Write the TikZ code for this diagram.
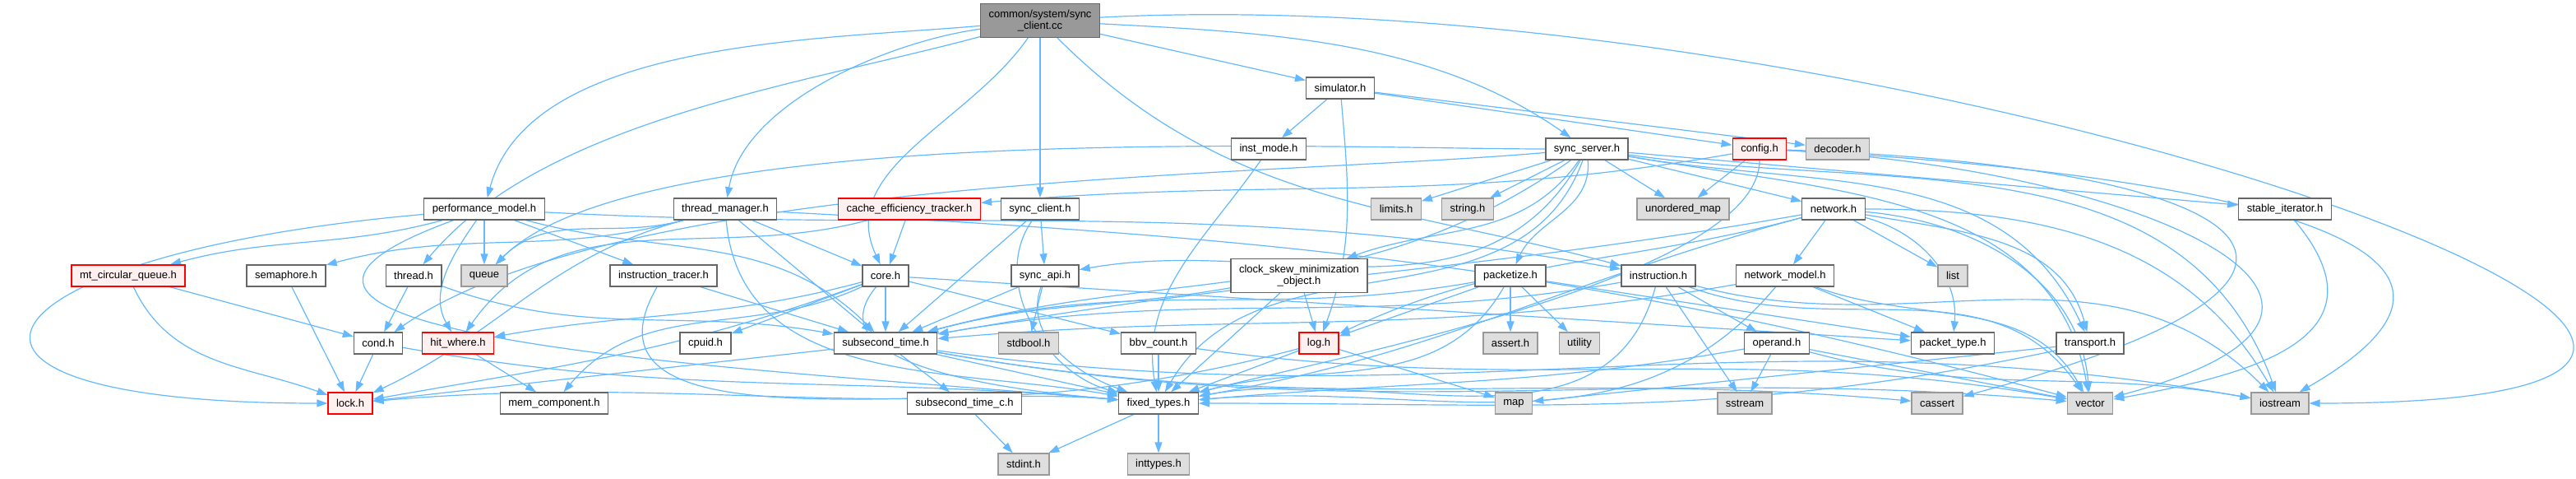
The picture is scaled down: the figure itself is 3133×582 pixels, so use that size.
\documentclass[tikz,border=0pt]{standalone}
\usepackage{fontspec}
\setmainfont{Liberation Sans}
\usetikzlibrary{arrows.meta,backgrounds}
\definecolor{edgeblue}{HTML}{63B8FF}
\definecolor{grey40}{HTML}{666666}
\definecolor{grey60}{HTML}{999999}
\definecolor{grey87}{HTML}{DEDEDE}
\definecolor{redfill}{HTML}{FFF0F0}
\begin{document}
\begin{tikzpicture}[x=0.5pt,y=0.5pt,
  hfile/.style={draw=grey40,fill=white,line width=0.65pt,minimum height=13pt,inner xsep=5pt,inner ysep=3.5pt,font=\fontsize{6.5}{7.25}\selectfont,align=center},
  sysfile/.style={hfile,draw=grey60,fill=grey87},
  cutfile/.style={hfile,draw=red,fill=redfill},
  srcfile/.style={hfile,fill=grey60},
  dep/.style={draw=edgeblue,line width=0.6pt,-{Triangle[length=6.5pt,width=4.5pt]}}]
  \useasboundingbox (0,0) rectangle (3133,-582);
  \node[srcfile] (root) at (1265,-25) {common/system/sync\\\_client.cc};
  \node[hfile] (sim) at (1630,-107) {simulator.h};
  \node[hfile] (instmode) at (1543,-181) {inst\_mode.h};
  \node[hfile] (sserver) at (1930,-181) {sync\_server.h};
  \node[cutfile] (config) at (2140,-181) {config.h};
  \node[sysfile] (decoder) at (2235,-181) {decoder.h};
  \node[hfile] (perf) at (589,-254) {performance\_model.h};
  \node[hfile] (tmgr) at (882,-254) {thread\_manager.h};
  \node[cutfile] (cet) at (1106,-254) {cache\_efficiency\_tracker.h};
  \node[hfile] (sclient) at (1265,-254) {sync\_client.h};
  \node[sysfile] (limits) at (1698,-254) {limits.h};
  \node[sysfile] (stringh) at (1785,-254) {string.h};
  \node[sysfile] (umap) at (2047,-254) {unordered\_map};
  \node[hfile] (net) at (2230,-254) {network.h};
  \node[hfile] (stable) at (2779,-254) {stable\_iterator.h};
  \node[cutfile] (mtcq) at (156,-335) {mt\_circular\_queue.h};
  \node[hfile] (sem) at (348,-335) {semaphore.h};
  \node[hfile] (thread) at (503,-335) {thread.h};
  \node[sysfile] (queue) at (589,-335) {queue};
  \node[hfile] (itracer) at (807,-335) {instruction\_tracer.h};
  \node[hfile] (core) at (1077,-335) {core.h};
  \node[hfile] (sapi) at (1271,-335) {sync\_api.h};
  \node[hfile] (clock) at (1580,-335) {clock\_skew\_minimization\\\_object.h};
  \node[hfile] (pktz) at (1837,-335) {packetize.h};
  \node[hfile] (instr) at (2017,-335) {instruction.h};
  \node[hfile] (netmodel) at (2171,-335) {network\_model.h};
  \node[sysfile] (list) at (2375,-335) {list};
  \node[hfile] (cond) at (460,-417) {cond.h};
  \node[cutfile] (hitw) at (557,-417) {hit\_where.h};
  \node[hfile] (cpuid) at (858,-417) {cpuid.h};
  \node[hfile] (subsec) at (1077,-417) {subsecond\_time.h};
  \node[sysfile] (stdbool) at (1251,-417) {stdbool.h};
  \node[hfile] (bbv) at (1409,-417) {bbv\_count.h};
  \node[cutfile] (log) at (1604,-417) {log.h};
  \node[sysfile] (asserth) at (1837,-417) {assert.h};
  \node[sysfile] (utility) at (1921,-417) {utility};
  \node[hfile] (operand) at (2161,-417) {operand.h};
  \node[hfile] (pkttype) at (2375,-417) {packet\_type.h};
  \node[hfile] (transport) at (2542,-417) {transport.h};
  \node[cutfile] (lock) at (426,-490) {lock.h};
  \node[hfile] (memc) at (674,-490) {mem\_component.h};
  \node[hfile] (subsecc) at (1173,-490) {subsecond\_time\_c.h};
  \node[hfile] (fixed) at (1409,-490) {fixed\_types.h};
  \node[sysfile] (map) at (1841,-490) {map};
  \node[sysfile] (sstream) at (2122,-490) {sstream};
  \node[sysfile] (cassert) at (2356,-490) {cassert};
  \node[sysfile] (vector) at (2542,-490) {vector};
  \node[sysfile] (iostream) at (2773,-490) {iostream};
  \node[sysfile] (stdint) at (1245,-564) {stdint.h};
  \node[sysfile] (inttypes) at (1409,-564) {inttypes.h};
  \begin{scope}[on background layer]
    \draw[dep] (root) to[out=185,in=75,looseness=0.8] (perf);
    \draw[dep] (root) to[out=188,in=80,looseness=0.8] (tmgr);
    \draw[dep] (root) to[out=195,in=50,looseness=0.8] (thread);
    \draw[dep] (root) to[out=235,in=115] (core);
    \draw[dep] (root) -- (sclient);
    \draw[dep] (root) to[out=-45,in=165] (instr);
    \draw[dep] (root) -- (sim);
    \draw[dep] (root) to[out=-3,in=145,looseness=0.9] (sserver);
    \draw[dep] (root) to[out=3,in=0,looseness=1.6] (iostream);
    \draw[dep] (sim) -- (instmode);
    \draw[dep] (sim) -- (config);
    \draw[dep] (sim) -- (decoder);
    \draw[dep] (sim) to[out=-85,in=70] (log);
    \draw[dep] (instmode) to[out=235,in=100] (fixed);
    \draw[dep] (sserver) -- (limits);
    \draw[dep] (sserver) -- (stringh);
    \draw[dep] (sserver) -- (umap);
    \draw[dep] (sserver) -- (net);
    \draw[dep] (sserver) -- (stable);
    \draw[dep] (sserver) to[out=-85,in=65] (pktz);
    \draw[dep] (sserver) to[out=240,in=10] (sapi);
    \draw[dep] (sserver) to[out=235,in=20] (clock);
    \draw[dep] (sserver) to[out=250,in=60] (fixed);
    \draw[dep] (sserver) to[out=215,in=15] (subsec);
    \draw[dep] (sserver) to[out=180,in=45,looseness=0.5] (queue);
    \draw[dep] (sserver) to[out=185,in=35,looseness=0.6] (cond);
    \draw[dep] (sserver) to[out=-10,in=115] (transport);
    \draw[dep] (sserver) to[out=-10,in=100] (vector);
    \draw[dep] (sserver) to[out=-8,in=110] (iostream);
    \draw[dep] (config) -- (umap);
    \draw[dep] (config) to[out=190,in=5] (cet);
    \draw[dep] (config) to[out=-90,in=15,looseness=0.5] (fixed);
    \draw[dep] (config) to[out=-2,in=15,looseness=4] (cassert);
    \draw[dep] (config) to[out=-3,in=15,looseness=2.2] (vector);
    \draw[dep] (config) to[out=-3,in=30,looseness=1.5] (iostream);
    \draw[dep] (net) -- (netmodel);
    \draw[dep] (net) -- (list);
    \draw[dep] (net) to[out=-15,in=85] (pkttype);
    \draw[dep] (net) to[out=-10,in=105] (transport);
    \draw[dep] (net) to[out=-5,in=95] (vector);
    \draw[dep] (net) to[out=0,in=120] (iostream);
    \draw[dep] (net) to[out=195,in=10] (fixed);
    \draw[dep] (net) to[out=190,in=10] (subsec);
    \draw[dep] (net) to[out=195,in=25] (log);
    \draw[dep] (netmodel) -- (pkttype);
    \draw[dep] (netmodel) to[out=230,in=5] (fixed);
    \draw[dep] (netmodel) to[out=190,in=5] (subsec);
    \draw[dep] (netmodel) to[out=-20,in=120] (vector);
    \draw[dep] (pktz) -- (asserth);
    \draw[dep] (pktz) -- (utility);
    \draw[dep] (pktz) -- (log);
    \draw[dep] (pktz) to[out=240,in=15] (fixed);
    \draw[dep] (pktz) -- (pkttype);
    \draw[dep] (pktz) to[out=190,in=15] (subsec);
    \draw[dep] (instr) -- (operand);
    \draw[dep] (instr) -- (sstream);
    \draw[dep] (instr) to[out=255,in=10] (fixed);
    \draw[dep] (instr) to[out=190,in=10] (subsec);
    \draw[dep] (instr) to[out=-20,in=125] (vector);
    \draw[dep] (instr) to[out=-15,in=135] (iostream);
    \draw[dep] (operand) -- (sstream);
    \draw[dep] (operand) to[out=190,in=5] (fixed);
    \draw[dep] (operand) -- (vector);
    \draw[dep] (operand) to[out=-15,in=170] (iostream);
    \draw[dep] (transport) -- (map);
    \draw[dep] (transport) to[out=192,in=0] (fixed);
    \draw[dep] (stable) to[out=-50,in=10,looseness=1.5] (vector);
    \draw[dep] (log) -- (map);
    \draw[dep] (log) -- (fixed);
    \draw[dep] (log) to[out=195,in=5] (lock);
    \draw[dep] (clock) -- (log);
    \draw[dep] (clock) -- (fixed);
    \draw[dep] (clock) to[out=190,in=15] (subsec);
    \draw[dep] (sclient) -- (sapi);
    \draw[dep] (sclient) -- (subsec);
    \draw[dep] (sclient) to[out=-125,in=165] (fixed);
    \draw[dep] (sapi) -- (subsec);
    \draw[dep] (sapi) to[out=-110,in=160] (fixed);
    \draw[dep] (sapi) -- (stdbool);
    \draw[dep] (cet) -- (core);
    \draw[dep] (cet) to[out=195,in=55] (hitw);
    \draw[dep] (core) -- (subsec);
    \draw[dep] (core) -- (cpuid);
    \draw[dep] (core) to[out=205,in=50] (memc);
    \draw[dep] (core) to[out=200,in=10] (lock);
    \draw[dep] (core) to[out=195,in=10] (hitw);
    \draw[dep] (core) to[out=230,in=175] (fixed);
    \draw[dep] (core) -- (bbv);
    \draw[dep] (core) -- (pkttype);
    \draw[dep] (subsec) -- (subsecc);
    \draw[dep] (subsec) -- (fixed);
    \draw[dep] (subsec) -- (lock);
    \draw[dep] (subsec) to[out=-8,in=170] (iostream);
    \draw[dep] (subsec) to[out=-10,in=175] (cassert);
    \draw[dep] (subsec) to[out=-10,in=175] (vector);
    \draw[dep] (subsecc) -- (stdint);
    \draw[dep] (fixed) -- (stdint);
    \draw[dep] (fixed) -- (inttypes);
    \draw[dep] (bbv) -- (fixed);
    \draw[dep] (bbv) to[out=-8,in=170] (vector);
    \draw[dep] (cond) -- (lock);
    \draw[dep] (cond) to[out=-10,in=175] (fixed);
    \draw[dep] (hitw) -- (memc);
    \draw[dep] (mtcq) -- (cond);
    \draw[dep] (mtcq) to[out=-65,in=160] (lock);
    \draw[dep] (sem) -- (lock);
    \draw[dep] (thread) -- (cond);
    \draw[dep] (thread) to[out=-20,in=170] (subsec);
    \draw[dep] (itracer) -- (subsec);
    \draw[dep] (itracer) to[out=-120,in=175] (fixed);
    \draw[dep] (perf) to[out=185,in=180,looseness=5.5] (lock);
    \draw[dep] (perf) to[out=195,in=15] (mtcq);
    \draw[dep] (perf) to[out=235,in=120] (hitw);
    \draw[dep] (perf) -- (queue);
    \draw[dep] (perf) -- (itracer);
    \draw[dep] (perf) to[out=-15,in=135] (subsec);
    \draw[dep] (perf) to[out=200,in=175,looseness=1.3] (fixed);
    \draw[dep] (perf) to[out=-3,in=170] (instr);
    \draw[dep] (tmgr) to[out=195,in=15] (sem);
    \draw[dep] (tmgr) to[out=195,in=45] (queue);
    \draw[dep] (tmgr) -- (core);
    \draw[dep] (tmgr) -- (subsec);
    \draw[dep] (tmgr) to[out=-85,in=170] (fixed);
    \draw[dep] (tmgr) to[out=195,in=25] (lock);
    \draw[dep] (tmgr) to[out=-3,in=165] (vector);
  \end{scope}
\end{tikzpicture}
\end{document}
